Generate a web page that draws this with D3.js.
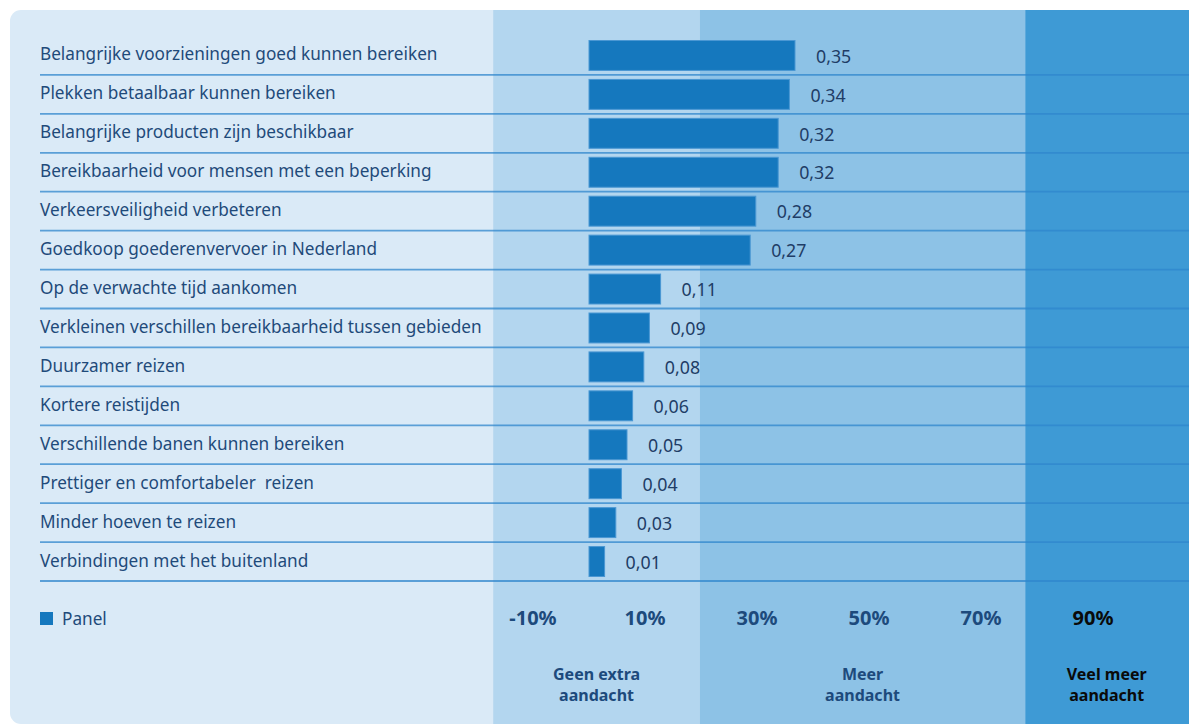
<!DOCTYPE html>
<html>
<head>
<meta charset="utf-8">
<script src="https://cdn.jsdelivr.net/npm/d3@7"></script>
<style>
  html, body { margin: 0; padding: 0; background: #ffffff; overflow: hidden; }
  svg { display: block; font-family: "Noto Sans", "Open Sans", sans-serif; }
  .lab { white-space: pre; }
</style>
</head>
<body>
<div id="chart"></div>
<script>
let width = 1189, height = 725;

// data
let labels = [
    "Belangrijke voorzieningen goed kunnen bereiken",
    "Plekken betaalbaar kunnen bereiken",
    "Belangrijke producten zijn beschikbaar",
    "Bereikbaarheid voor mensen met een beperking",
    "Verkeersveiligheid verbeteren",
    "Goedkoop goederenvervoer in Nederland",
    "Op de verwachte tijd aankomen",
    "Verkleinen verschillen bereikbaarheid tussen gebieden",
    "Duurzamer reizen",
    "Kortere reistijden",
    "Verschillende banen kunnen bereiken",
    "Prettiger en comfortabeler  reizen",
    "Minder hoeven te reizen",
    "Verbindingen met het buitenland"
];
let values = [0.35, 0.34, 0.32, 0.32, 0.28, 0.27, 0.11, 0.09, 0.08, 0.06, 0.05, 0.04, 0.03, 0.01];
let tickValues = [-10, 10, 30, 50, 70, 90];
let tickLabels = ["-10%", "10%", "30%", "50%", "70%", "90%"];
let zoneNames = [["Geen extra", "aandacht"], ["Meer", "aandacht"], ["Veel meer", "aandacht"]];
let zoneBounds = [[-17.1, 19.8], [19.8, 77.9], [77.9, 120]];
let legendLabel = "Panel";

let svg = d3.select("#chart")
    .append("svg")
    .attr("width", width)
    .attr("height", height);

// scale for the percentage axis along the bottom
let axisX = d3.scaleLinear()
    .domain([-10, 90])
    .range([533, 1093]);

// bar scale (bars start at a small offset left of their zero)
let barStart = 589;
let x = d3.scaleLinear()
    .domain([0, 0.35])
    .range([599, 795]);

let y = d3.scaleBand()
    .domain(labels)
    .range([36, 581])
    .paddingInner(0)
    .paddingOuter(0);

let clip = svg.append("defs").append("clipPath")
    .attr("id", "panel")
    .append("rect")
    .attr("x", 10)
    .attr("y", 10)
    .attr("width", width + 20)
    .attr("height", 714)
    .attr("rx", 11);

let bg = svg.append("g").attr("clip-path", "url(#panel)");

bg.append("rect")
    .attr("x", 10)
    .attr("y", 10)
    .attr("width", width)
    .attr("height", 714)
    .style("fill", "#daeaf7");

let zoneColors = ["#b3d6ef", "#8dc2e6", "#3e9ad5"];
bg.selectAll(".zone")
    .data(zoneBounds)
    .enter()
    .append("rect")
    .attr("class", "zone")
    .attr("x", function (d) { return axisX(d[0]); })
    .attr("y", 10)
    .attr("width", function (d) { return axisX(d[1]) - axisX(d[0]); })
    .attr("height", 714)
    .style("fill", function (d, i) { return zoneColors[i]; });

// row separators
svg.selectAll(".sep")
    .data(labels)
    .enter()
    .append("line")
    .attr("class", "sep")
    .attr("x1", 40)
    .attr("x2", width)
    .attr("y1", function (d) { return y(d) + y.bandwidth(); })
    .attr("y2", function (d) { return y(d) + y.bandwidth(); })
    .style("stroke", "#2f86cc")
    .style("stroke-opacity", 0.75)
    .style("stroke-width", 1.8);

// category labels
svg.selectAll(".lab")
    .data(labels)
    .enter()
    .append("text")
    .attr("class", "lab")
    .attr("x", 40)
    .attr("y", function (d) { return y(d) + y.bandwidth() / 2 - 1; })
    .attr("dy", "0.35em")
    .style("font-size", "17.2px")
    .style("fill", "#1f4a7a")
    .text(function (d) { return d; });

// bars
svg.selectAll(".bar")
    .data(values)
    .enter()
    .append("rect")
    .attr("class", "bar")
    .attr("x", barStart)
    .attr("y", function (d, i) { return y(labels[i]) + 4.5; })
    .attr("width", function (d) { return x(d) - barStart; })
    .attr("height", y.bandwidth() - 9)
    .style("fill", "#1578be")
    .style("stroke", "#4a97d3")
    .style("stroke-width", 1);

// value labels
svg.selectAll(".val")
    .data(values)
    .enter()
    .append("text")
    .attr("class", "val")
    .attr("x", function (d) { return x(d) + 21; })
    .attr("y", function (d, i) { return y(labels[i]) + y.bandwidth() / 2 + 1; })
    .attr("dy", "0.35em")
    .style("font-size", "17.8px")
    .style("fill", "#1f3d66")
    .text(function (d) { return d3.format(".2f")(d).replace(".", ","); });

// bottom axis labels
svg.selectAll(".tick")
    .data(tickValues)
    .enter()
    .append("text")
    .attr("class", "tick")
    .attr("x", function (d) { return axisX(d); })
    .attr("y", 618)
    .attr("dy", "0.35em")
    .style("text-anchor", "middle")
    .style("font-size", "20px")
    .style("font-weight", "bold")
    .style("fill", function (d, i) { return i == tickValues.length - 1 ? "#0a0a0a" : "#1d4a7c"; })
    .text(function (d, i) { return tickLabels[i]; });

// zone names
let zn = svg.selectAll(".zname")
    .data(zoneNames)
    .enter()
    .append("text")
    .attr("class", "zname")
    .attr("x", function (d, i) { return (axisX(zoneBounds[i][0]) + axisX(Math.min(zoneBounds[i][1], 107))) / 2; })
    .attr("y", 674)
    .style("text-anchor", "middle")
    .style("font-size", "16px")
    .style("font-weight", "bold")
    .style("fill", function (d, i) { return i == 2 ? "#0a0a0a" : "#1d4a7c"; });

zn.selectAll("tspan")
    .data(function (d) { return d; })
    .enter()
    .append("tspan")
    .attr("x", function () { return d3.select(this.parentNode).attr("x"); })
    .attr("dy", function (d, i) { return i == 0 ? "0.35em" : "21"; })
    .text(function (d) { return d; });

// legend
svg.append("rect")
    .attr("x", 40)
    .attr("y", 612)
    .attr("width", 13)
    .attr("height", 13)
    .style("fill", "#1578be");

svg.append("text")
    .attr("x", 62)
    .attr("y", 619)
    .attr("dy", "0.35em")
    .style("font-size", "17.2px")
    .style("fill", "#1f4a7a")
    .text(legendLabel);
</script>
</body>
</html>
